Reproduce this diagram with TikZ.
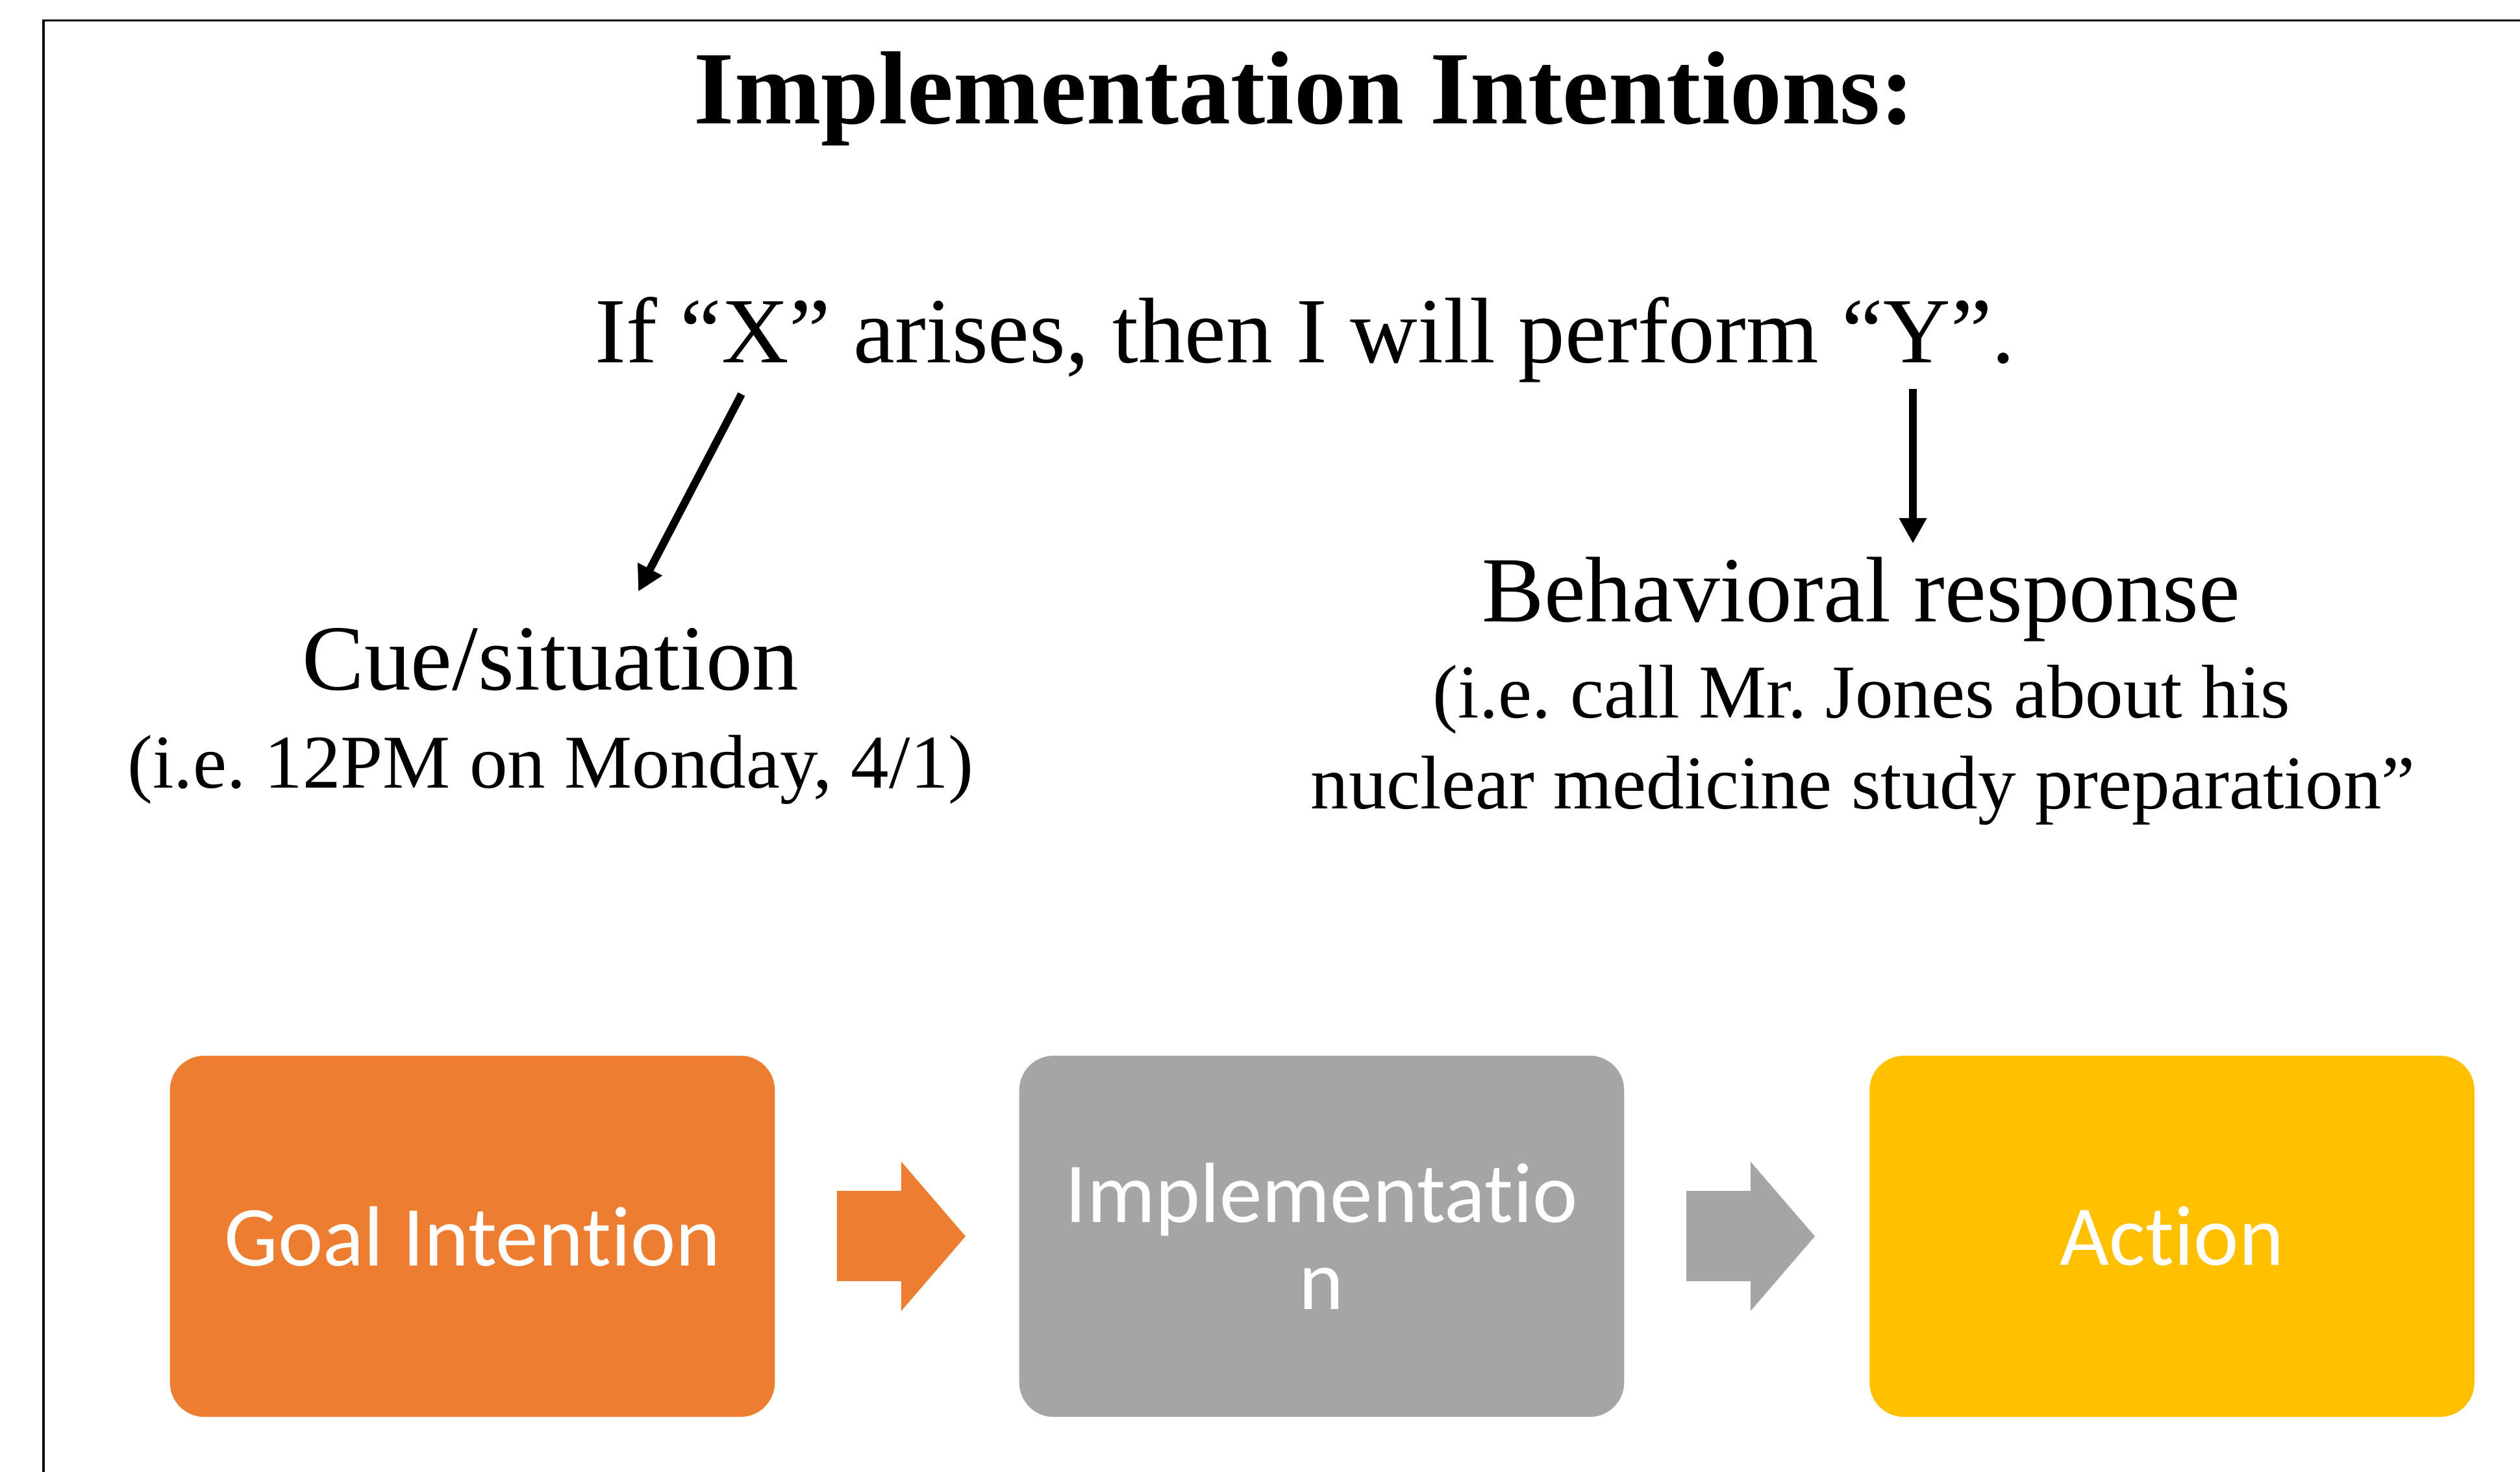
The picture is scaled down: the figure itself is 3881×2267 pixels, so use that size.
\documentclass[tikz,border=0pt]{standalone}
\usepackage{fontspec}
\setmainfont{Liberation Serif}
\newfontfamily\boxfont[RawFeature={-liga;-dlig}]{Carlito}
\usetikzlibrary{arrows.meta,calc}
\definecolor{accorange}{HTML}{ED7D31}
\definecolor{accgray}{HTML}{A5A5A5}
\definecolor{accgold}{HTML}{FFC000}
\frenchspacing
\begin{document}
\begin{tikzpicture}[x=0.01cm,y=-0.01cm,
  lbl/.style={inner sep=0pt, anchor=base},
  titlefont/.style={font=\bfseries\fontsize{45.5pt}{54pt}\selectfont},
  bigfont/.style={font=\fontsize{40.8pt}{48pt}\selectfont},
  smallfont/.style={font=\fontsize{33.3pt}{40pt}\selectfont},
  pointer/.style={line width=0.12cm, -{Triangle[length=0.39cm,width=0.4cm]}},
  stage/.style={rounded corners=0.53cm, minimum width=9.31cm, minimum height=5.56cm,
    inner sep=0pt, text=white, align=center,
    font=\boxfont\fontsize{37.4pt}{38.1pt}\selectfont},
  blockarrow/.style={draw=none}]
\useasboundingbox (0,0) rectangle (3881,2267);
% frame
\draw[line width=0.03cm] (67,2300) -- (67,32) -- (3920,32);
% texts
\node[lbl, titlefont] (title) at (2009,191) {Implementation Intentions:};
\node[lbl, bigfont] (rule) at (2010,558) {If “X” arises, then I will perform “Y”.};
\node[lbl, bigfont] (cue) at (848,1062) {Cue/situation};
\node[lbl, smallfont] (cuesub) at (848,1213) {(i.e. 12PM on Monday, 4/1)};
\node[lbl, bigfont] (beh) at (2866,957) {Behavioral response};
\node[lbl, smallfont] (behsub1) at (2867,1105) {(i.e. call Mr. Jones about his};
\node[lbl, smallfont] (behsub2) at (2869,1245) {nuclear medicine study preparation”};
% pointer arrows
\coordinate (xfoot) at (1142,607);
\coordinate (cuetop) at (983,911);
\coordinate (yfoot) at (2946,599);
\coordinate (behtop) at (2946,837);
\draw[pointer] (xfoot) -- (cuetop);
\draw[pointer] (yfoot) -- (behtop);
% stages
\node[stage, fill=accorange] (goal) at (727.5,1904) {Goal Intention};
\node[stage, fill=accgray] (impl) at (2035.5,1904) {Implementatio\\n};
\node[stage, fill=accgold] (act) at (3345,1904) {Action};
% block arrows
\fill[accorange] ($(goal.east)+(95,-70)$) -- ++(99,0) -- ++(0,-45) -- ($(goal.east)+(293,0)$)
  -- ($(goal.east)+(194,115)$) -- ++(0,-46) -- ($(goal.east)+(95,69)$) -- cycle;
\fill[accgray] ($(impl.east)+(95,-70)$) -- ++(99,0) -- ++(0,-45) -- ($(impl.east)+(293,0)$)
  -- ($(impl.east)+(194,115)$) -- ++(0,-46) -- ($(impl.east)+(95,69)$) -- cycle;
\end{tikzpicture}
\end{document}
